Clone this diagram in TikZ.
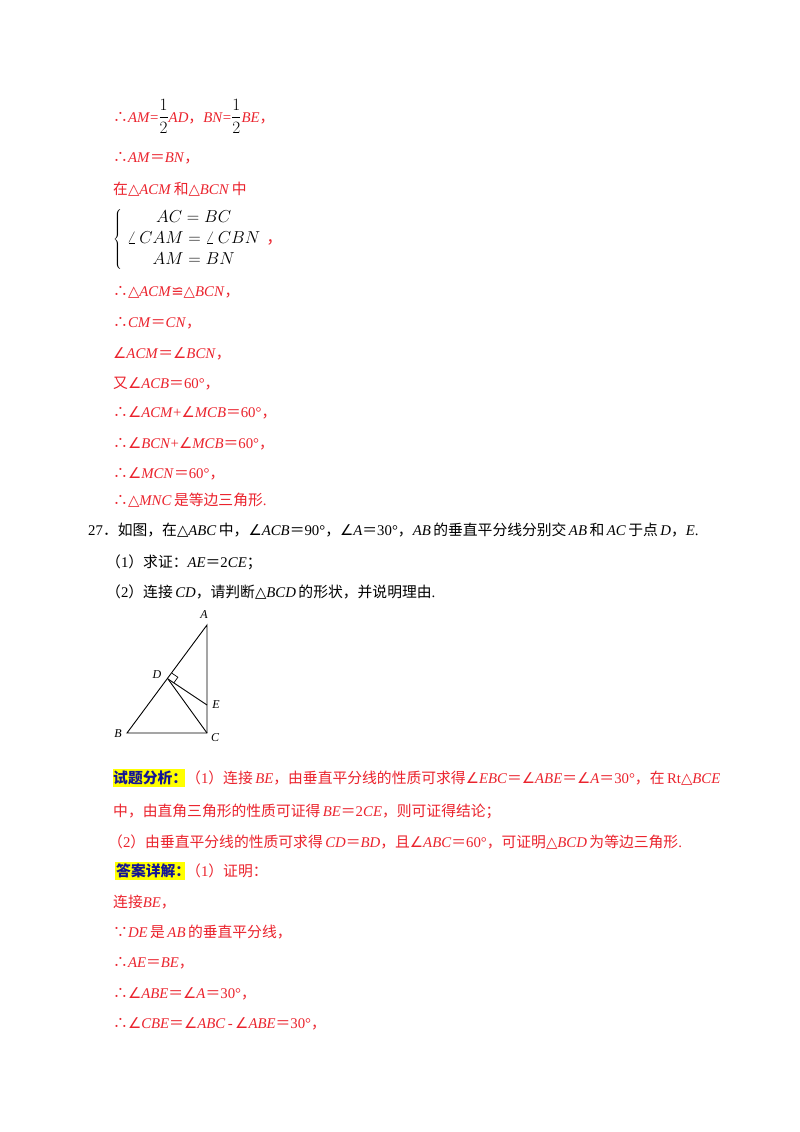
\documentclass[tikz,border=0pt]{standalone}
\usetikzlibrary{calc}
\usepackage{fontspec}
\setmainfont{Liberation Serif}
\newfontfamily\zhf{Noto Sans CJK SC}
\newfontfamily\symf{DejaVu Sans}
\newcommand{\zh}[1]{{\zhf #1}}
\newcommand{\I}[1]{\textit{#1}}
\newcommand{\Ang}{{\symf ∠}}
\newcommand{\Tri}{{\symf △}}
\newcommand{\Cng}{{\symf ≌}}
\definecolor{rd}{RGB}{235,35,45}
\definecolor{hl}{RGB}{255,255,0}
\definecolor{hb}{RGB}{20,20,150}
\tikzset{ln/.style={anchor=base west,inner sep=0pt,font=\fontsize{14.8}{17}\selectfont},
 r/.style={ln,text=rd}, k/.style={ln,text=black},
 lb/.style={inner sep=0pt,font=\fontsize{12}{13}\selectfont\itshape},
 fig/.style={line width=0.9pt}}
\begin{document}
\begin{tikzpicture}[x=1pt,y=-1pt]
\useasboundingbox[fill=white] (0,0) rectangle (800,1132);
\node[r] (l1) at (113,122) {\zh{∴}\I{AM}=\textcolor{black}{\fontsize{17}{19}\selectfont$\displaystyle\frac{1}{2}$}\I{AD}\zh{，}\I{BN}=\textcolor{black}{\fontsize{17}{19}\selectfont$\displaystyle\frac{1}{2}$}\I{BE}\zh{，}};
\node[r] (l2) at (113,162) {\zh{∴}\I{AM}\zh{＝}\I{BN}\zh{，}};
\node[r] (l3) at (113,194) {\zh{在}\Tri\I{ACM}\,\zh{和}\Tri\I{BCN}\,\zh{中}};
\node[k,anchor=west] (l4) at (113,239) {\fontsize{16.5}{19}\selectfont\renewcommand{\arraystretch}{1.1}$\left\{\begin{array}{c}AC=BC\\ \angle\, CAM=\angle\, CBN\\ AM=BN\end{array}\right.$\textcolor{rd}{\zh{，}}};
\node[r] (l5) at (113,296) {\zh{∴}\Tri\I{ACM}\Cng\Tri\I{BCN}\zh{，}};
\node[r] (l6) at (113,327) {\zh{∴}\I{CM}\zh{＝}\I{CN}\zh{，}};
\node[r] (l7) at (113,358) {\Ang\I{ACM}\zh{＝}\Ang\I{BCN}\zh{，}};
\node[r] (l8) at (113,388) {\zh{又}\Ang\I{ACB}\zh{＝}60°\zh{，}};
\node[r] (l9) at (113,417) {\zh{∴}\Ang\I{ACM}+\Ang\I{MCB}\zh{＝}60°\zh{，}};
\node[r] (l10) at (113,448) {\zh{∴}\Ang\I{BCN}+\Ang\I{MCB}\zh{＝}60°\zh{，}};
\node[r] (l11) at (113,478) {\zh{∴}\Ang\I{MCN}\zh{＝}60°\zh{，}};
\node[r] (l12) at (113,505) {\zh{∴}\Tri\I{MNC}\,\zh{是等边三角形}.};
\node[k] (q) at (88,535) {27\zh{．如图，在}\Tri\I{ABC}\,\zh{中，}\Ang\I{ACB}\zh{＝}90°\zh{，}\Ang\I{A}\zh{＝}30°\zh{，}\I{AB}\,\zh{的垂直平分线分别交}\,\I{AB}\,\zh{和}\,\I{AC}\,\zh{于点}\,\I{D}\zh{，}\I{E}.};
\node[k] (q1) at (106,567) {\zh{（}1\zh{）求证：}\I{AE}\zh{＝}2\I{CE}\zh{；}};
\node[k] (q2) at (106,597) {\zh{（}2\zh{）连接}\,\I{CD}\zh{，请判断}\Tri\I{BCD}\,\zh{的形状，并说明理由}.};
% figure
\coordinate (A) at (207,625); \coordinate (B) at (127,733); \coordinate (C) at (207,733);
\coordinate (D) at (168,679); \coordinate (E) at (207,705);
\draw[fig] (A)--(B)--(C)--cycle; \draw[fig] (D)--(E); \draw[fig] (D)--(C);
\coordinate (pa) at ($(D)!7pt!(A)$); \coordinate (pe) at ($(D)!7pt!(E)$);
\draw[line width=0.7pt] (pa) -- ($(pa)+(pe)-(D)$) -- (pe);
\node[lb] (nA) at (204,615) {A}; \node[lb] (nB) at (118,734) {B}; \node[lb] (nC) at (215,738) {C};
\node[lb] (nD) at (157,675) {D}; \node[lb] (nE) at (216,705) {E};
% analysis
\node[fill=hl,minimum width=72pt,minimum height=18pt,inner sep=0pt] (h1) at (149,778) {};
\node[ln,text=hb] (h1t) at (113,783) {\zh{\bfseries 试题分析：}};
\node[r] (a1) at (186,783) {\zh{（}1\zh{）连接}\,\I{BE}\zh{，由垂直平分线的性质可求得}\Ang\I{EBC}\zh{＝}\Ang\I{ABE}\zh{＝}\Ang\I{A}\zh{＝}30°\zh{，在}\,Rt\Tri\I{BCE}};
\node[r] (a2) at (113,816) {\zh{中，由直角三角形的性质可证得}\,\I{BE}\zh{＝}2\I{CE}\zh{，则可证得结论；}};
\node[r] (a3) at (108,847) {\zh{（}2\zh{）由垂直平分线的性质可求得}\,\I{CD}\zh{＝}\I{BD}\zh{，且}\Ang\I{ABC}\zh{＝}60°\zh{，可证明}\Tri\I{BCD}\,\zh{为等边三角形}.};
\node[fill=hl,minimum width=70pt,minimum height=18pt,inner sep=0pt] (h2) at (150,871) {};
\node[ln,text=hb] (h2t) at (116,876) {\zh{\bfseries 答案详解：}};
\node[r] (b0) at (186,876) {\zh{（}1\zh{）证明：}};
\node[r] (b1) at (113,907) {\zh{连接}\I{BE}\zh{，}};
\node[r] (b2) at (113,937) {\zh{∵}\I{DE}\,\zh{是}\,\I{AB}\,\zh{的垂直平分线，}};
\node[r] (b3) at (113,967) {\zh{∴}\I{AE}\zh{＝}\I{BE}\zh{，}};
\node[r] (b4) at (113,998) {\zh{∴}\Ang\I{ABE}\zh{＝}\Ang\I{A}\zh{＝}30°\zh{，}};
\node[r] (b5) at (113,1028) {\zh{∴}\Ang\I{CBE}\zh{＝}\Ang\I{ABC}\,-\,\Ang\I{ABE}\zh{＝}30°\zh{，}};
\end{tikzpicture}
\end{document}
